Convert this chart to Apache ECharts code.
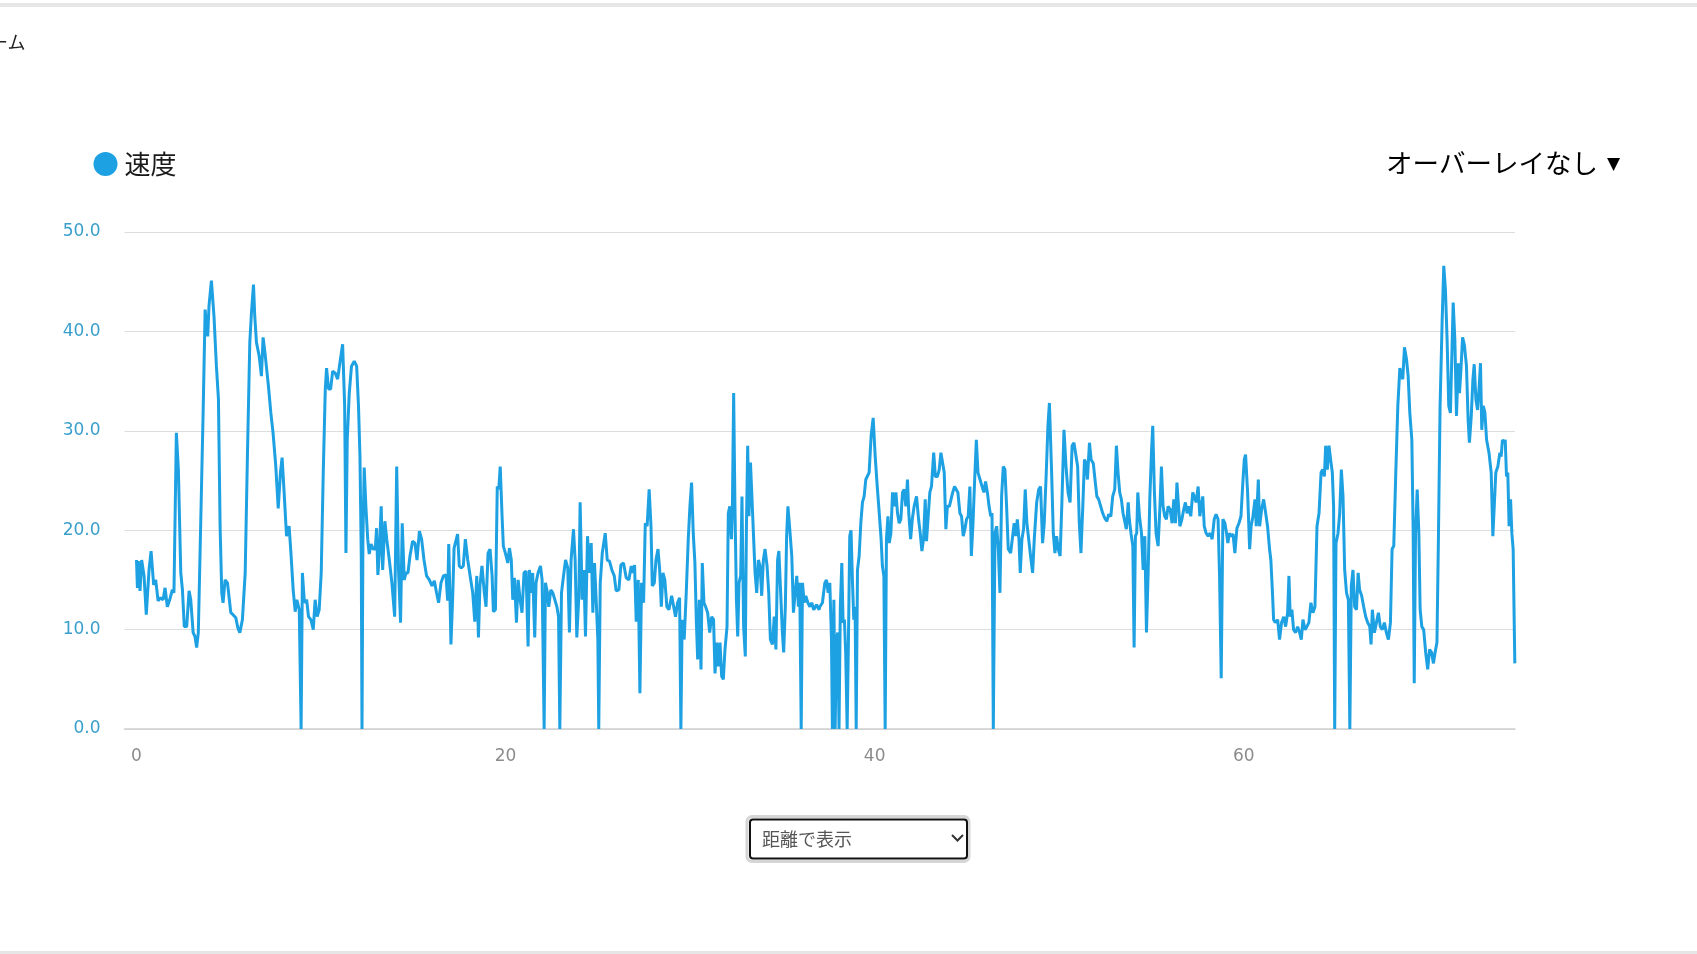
<!DOCTYPE html>
<html>
<head>
<meta charset="utf-8">
<title>速度</title>
<script src="https://cdn.jsdelivr.net/npm/echarts@6/dist/echarts.min.js"></script>
<style>
  html, body { margin: 0; padding: 0; background: #fff; }
  #chart { width: 1697px; height: 954px; }
</style>
</head>
<body>
<div id="chart"></div>
<script>
// distance (km) along the ride
const distanceKm = [
  0.00,0.05,0.10,0.19,0.28,0.41,0.53,0.68,0.79,0.86,0.93,1.04,1.17,1.31,1.44,1.55,1.67,1.80,1.94,2.03,
  2.16,2.27,2.40,2.49,2.59,2.72,2.85,2.94,3.07,3.17,3.26,3.35,3.48,3.61,3.72,3.79,3.86,3.93,4.06,4.20,
  4.33,4.44,4.53,4.62,4.69,4.80,4.93,5.11,5.23,5.38,5.49,5.60,5.74,5.89,6.01,6.14,6.23,6.34,6.41,6.50,
  6.65,6.77,6.86,6.97,7.06,7.15,7.28,7.40,7.55,7.68,7.80,7.89,8.00,8.13,8.27,8.38,8.49,8.60,8.69,8.82,
  8.92,8.99,9.10,9.22,9.32,9.45,9.58,9.68,9.79,9.90,10.01,10.12,10.23,10.30,10.41,10.52,10.63,10.77,10.90,11.02,
  11.17,11.28,11.35,11.42,11.53,11.65,11.80,11.93,12.03,
  12.11,12.18,12.22,12.27,12.34,12.43,12.53,12.61,12.71,12.83,12.94,13.01,13.08,13.16,13.26,13.34,13.46,13.56,13.70,13.84,
  13.99,14.10,14.20,14.31,14.40,14.51,14.60,14.71,14.82,14.96,15.09,15.20,15.33,15.45,15.58,15.72,15.87,16.01,16.14,16.26,
  16.37,16.50,16.63,16.77,16.86,16.92,16.99,17.04,17.13,17.21,17.31,17.40,17.49,17.60,17.71,17.82,17.95,18.08,18.22,18.33,
  18.44,18.53,18.61,18.72,18.85,18.94,19.05,19.16,19.27,19.34,19.45,19.55,19.63,19.71,19.81,19.88,19.99,20.12,20.21,20.31,
  20.39,20.48,20.59,20.68,20.79,20.89,21.00,21.11,21.22,21.29,21.40,21.47,21.58,21.65,21.76,21.89,21.98,22.09,22.16,22.27,
  22.34,22.45,22.56,22.67,22.78,22.87,22.94,23.03,23.14,23.25,23.37,23.46,23.55,23.68,23.77,23.86,23.97,24.04,24.15,24.24,
  24.33,24.44,24.55,
  24.64,24.73,24.82,24.91,25.00,25.05,25.13,25.24,25.40,25.51,25.63,25.76,25.89,25.99,26.14,26.25,26.39,26.54,26.68,26.81,
  26.90,26.99,27.08,27.19,27.28,27.37,27.48,27.57,27.67,27.78,27.88,27.95,28.06,28.15,28.26,28.35,28.44,28.53,28.63,28.74,
  28.85,29.00,29.11,29.21,29.32,29.43,29.50,29.57,29.68,29.79,29.90,29.99,30.08,30.17,30.26,30.34,30.41,30.50,30.59,30.66,
  30.75,30.84,30.95,31.06,31.17,31.27,31.35,31.44,31.53,31.62,31.71,31.80,31.89,32.00,32.07,32.15,32.24,32.29,32.36,32.43,
  32.51,32.58,32.65,32.74,32.81,32.90,32.99,33.05,33.12,33.19,33.27,33.34,33.43,33.52,33.61,33.70,33.79,33.88,33.97,34.06,
  34.17,34.26,34.35,34.46,34.56,34.65,34.74,34.81,34.91,35.00,35.07,35.16,35.23,35.30,35.40,35.51,35.60,35.69,35.78,35.87,
  35.94,36.02,36.09,36.18,36.27,36.38,36.49,36.59,36.70,36.85,36.99,
  37.03,37.17,37.30,37.39,37.48,37.57,37.66,37.71,37.79,37.86,37.93,38.00,38.07,38.14,38.22,38.29,38.36,38.43,38.51,38.58,
  38.65,38.72,38.80,38.87,38.94,39.00,39.07,39.16,39.25,39.34,39.43,39.52,39.61,39.70,39.81,39.92,40.03,40.14,40.25,40.35,
  40.42,40.50,40.57,40.64,40.72,40.79,40.88,40.97,41.06,41.15,41.24,41.33,41.42,41.51,41.60,41.69,41.78,41.85,41.95,42.04,
  42.14,42.27,42.38,42.47,42.56,42.65,42.74,42.81,42.90,42.99,43.08,43.20,43.29,43.40,43.50,43.59,43.68,43.77,43.86,43.94,
  44.05,44.14,44.23,44.33,44.42,44.51,44.62,44.71,44.80,44.89,44.98,45.07,45.16,45.24,45.33,45.42,45.51,45.60,45.71,45.82,
  45.92,46.01,46.11,46.20,46.29,46.36,46.43,46.52,46.61,46.70,46.79,46.88,46.97,47.06,47.15,47.24,47.37,47.47,47.56,47.65,
  47.73,47.82,47.89,47.98,48.07,48.16,48.25,48.35,48.45,48.56,48.65,48.78,48.89,48.99,49.10,49.19,49.30,49.39,49.47,
  49.59,49.68,49.77,49.86,49.95,50.05,50.14,50.26,50.37,50.48,50.59,50.70,50.80,50.89,51.00,51.09,51.18,51.28,51.37,51.46,
  51.53,51.64,51.73,51.85,51.94,52.04,52.14,52.25,52.36,52.47,52.58,52.68,52.80,52.90,53.01,53.10,53.19,53.28,53.37,53.46,
  53.56,53.64,53.74,53.80,53.89,53.99,54.06,54.13,54.20,54.26,54.35,54.46,54.55,54.64,54.73,54.82,54.91,55.00,55.07,55.16,
  55.25,55.36,55.47,55.54,55.63,55.72,55.81,55.90,56.01,56.12,56.21,56.30,56.38,56.45,56.54,56.65,56.75,56.84,56.93,57.02,
  57.13,57.24,57.33,57.42,57.53,57.62,57.71,57.78,57.86,57.96,58.07,58.18,58.29,58.40,58.50,58.61,58.69,58.78,58.87,58.98,
  59.07,59.14,59.22,59.31,59.42,59.52,59.63,59.74,59.85,59.94,60.03,60.10,60.21,60.32,60.40,60.50,60.61,60.68,60.79,60.86,
  60.97,61.08,61.19,61.29,61.40,61.47,61.55,61.62,61.71,
  61.84,61.94,62.05,62.17,62.27,62.38,62.45,62.52,62.61,62.70,62.81,62.92,63.03,63.12,63.21,63.32,63.42,63.53,63.64,63.75,
  63.86,63.97,64.08,64.19,64.28,64.37,64.44,64.53,64.62,64.71,64.80,64.87,64.93,65.00,65.11,65.20,65.29,65.38,65.47,65.57,
  65.67,65.75,65.83,65.92,66.01,66.11,66.20,66.28,66.39,66.50,66.61,66.72,66.83,66.90,66.97,67.08,67.19,67.30,67.40,67.51,
  67.62,67.73,67.84,67.95,68.04,68.13,68.24,68.35,68.46,68.55,68.62,68.71,68.82,68.91,69.00,69.11,69.18,69.24,69.31,69.40,
  69.49,69.56,69.65,69.75,69.86,69.97,70.07,70.18,70.28,70.37,70.47,70.55,70.64,70.75,70.84,70.93,71.02,71.11,71.20,71.28,
  71.35,71.44,71.53,71.62,71.69,71.76,71.86,71.96,72.07,72.16,72.23,72.33,72.42,72.49,72.58,72.67,72.76,72.83,72.90,72.98,
  73.07,73.16,73.29,73.41,73.50,73.58,73.66,73.77,73.88,73.95,74.02,74.10,74.17,74.24,74.31,74.38,74.46,74.53,74.60,74.69
]

// speed (km/h) at each distance
const speedKmh = [
  17.0,14.2,16.9,13.9,17.0,15.4,11.5,16.0,17.9,17.9,14.5,15.0,12.9,13.2,13.0,14.2,12.3,13.0,14.0,13.7,
  29.8,26.1,15.7,14.0,10.3,10.3,13.9,13.0,9.7,9.3,8.2,9.7,20.7,31.8,42.2,40.5,39.5,42.6,45.1,41.5,
  36.5,33.2,20.4,13.7,12.7,15.0,14.7,11.7,11.5,11.2,10.2,9.7,11.0,15.7,27.4,38.9,41.9,44.7,41.5,38.9,
  37.5,35.5,39.4,37.7,37.9,34.5,31.8,29.8,26.4,22.2,25.8,27.3,23.8,19.4,20.4,17.4,14.0,11.8,13.0,12.0,
  0,15.7,12.7,13.0,11.3,11.0,10.0,13.0,11.3,12.0,15.7,25.8,34.2,36.3,34.2,34.2,36.0,35.8,35.2,36.8,
  38.7,32.5,17.7,29.1,33.8,36.5,37.0,36.5,32.5,
  27.4,17.4,0,19.1,26.3,22.4,19.1,17.6,18.6,18.1,18.1,20.2,15.5,17.7,22.4,16.0,20.9,19.1,17.0,14.7,
  11.3,26.4,16.0,10.7,20.7,15.0,15.7,15.7,17.4,18.9,18.7,17.0,19.9,19.1,17.0,15.4,15.0,14.4,14.9,13.7,
  12.7,14.7,15.4,15.5,12.9,18.6,13.0,8.5,13.0,18.2,18.4,19.6,16.4,16.2,16.4,19.1,17.0,15.4,13.7,10.8,
  15.4,9.2,14.4,16.4,13.7,12.3,17.7,18.1,15.4,11.8,12.0,24.4,24.1,26.4,21.4,18.4,17.7,16.7,18.2,17.0,
  13.0,15.2,10.7,15.0,13.0,11.7,15.7,15.9,8.3,16.0,13.7,15.7,9.2,14.7,15.7,16.4,15.0,0,14.7,13.7,
  12.3,14.0,13.7,13.0,12.3,11.3,0,13.7,15.4,17.0,16.2,9.7,17.0,20.1,17.0,9.2,13.4,22.8,13.0,16.0,
  9.3,19.4,15.7,
  18.7,11.7,16.7,13.0,9.0,0,14.7,17.7,19.7,17.0,16.9,16.0,15.4,13.9,14.0,16.5,16.7,15.2,15.0,16.4,
  15.7,16.5,10.8,15.0,3.6,14.7,12.7,20.7,20.4,24.1,20.4,14.4,14.7,17.0,18.1,16.0,12.3,15.7,15.0,12.3,
  12.0,13.4,12.3,11.3,12.7,13.2,0,11.0,9.0,13.7,19.1,22.4,24.8,19.7,16.7,10.7,7.0,13.0,6.0,16.7,
  12.7,12.3,11.7,9.7,11.3,11.0,5.6,8.7,6.3,8.7,5.3,5.0,8.0,10.3,21.7,22.4,19.1,22.1,33.8,22.4,
  13.0,9.3,14.7,15.4,23.4,10.3,7.3,20.1,28.5,21.4,26.8,23.8,19.7,15.7,13.7,17.0,16.4,13.4,17.0,18.1,
  16.4,13.7,9.0,8.5,11.3,8.0,17.0,17.9,17.7,9.7,7.7,12.3,19.4,22.4,20.1,17.4,11.7,13.7,15.4,12.3,
  14.7,0,14.7,12.7,13.4,12.7,12.3,12.7,12.0,12.5,12.0,
  12.3,12.7,14.7,15.0,13.7,14.7,9.0,0,13.0,0,9.0,9.7,0,12.3,16.7,10.7,11.0,7.7,0,9.0,
  19.4,20.0,14.7,11.0,12.3,0,16.0,17.4,20.7,22.8,23.4,25.1,25.3,25.8,29.5,31.3,27.4,24.4,21.7,19.1,
  16.4,15.4,0,19.1,21.4,18.7,19.7,23.8,22.4,23.8,21.7,20.7,21.1,23.8,24.1,22.4,25.1,21.7,19.1,21.1,
  22.4,23.4,21.1,19.7,17.9,19.1,23.1,18.9,19.1,23.8,24.4,27.8,25.4,25.4,26.1,27.8,27.9,25.8,20.1,22.4,
  22.4,23.1,23.8,24.4,24.6,23.8,21.7,21.4,19.4,20.1,21.1,21.4,24.4,17.4,20.7,25.1,29.1,25.8,25.1,24.4,
  23.8,24.9,23.8,22.4,21.4,21.7,0,19.7,20.4,18.1,13.7,23.4,26.4,26.1,22.4,18.1,17.7,17.7,20.7,19.4,
  21.1,19.1,15.7,19.1,20.1,24.1,20.7,20.7,17.4,15.7,19.1,22.8,24.1,24.4,18.7,20.7,25.8,30.5,32.8,
  25.8,19.7,17.7,19.4,18.1,17.4,22.4,30.1,26.4,23.8,22.8,28.5,28.8,28.8,26.4,20.7,17.7,22.4,27.1,26.7,
  25.1,28.8,27.1,26.7,25.1,23.4,23.1,22.4,21.7,21.2,20.9,21.6,21.4,23.4,24.1,28.5,25.8,23.8,23.1,21.7,
  21.7,20.1,22.8,21.1,19.7,18.4,8.2,19.4,19.7,23.8,21.4,19.7,16.0,19.4,9.7,15.7,23.1,27.8,30.5,23.8,
  19.7,18.4,22.8,26.4,22.4,21.4,21.1,22.4,22.1,20.7,23.1,20.7,24.8,24.8,20.4,21.1,22.1,22.8,21.7,22.4,
  21.4,23.8,23.8,22.8,24.4,21.4,21.4,23.4,20.4,19.7,19.4,19.7,19.1,21.1,21.6,21.1,15.4,5.1,21.1,20.7,
  19.7,18.7,19.7,19.4,19.6,17.7,20.2,20.7,21.4,24.4,27.1,27.6,23.8,18.1,20.4,21.4,23.1,20.4,25.1,20.4,
  22.1,23.1,21.7,20.4,18.1,17.0,14.0,11.0,10.7,
  11.0,9.0,10.7,11.3,10.3,11.7,15.4,11.3,12.0,10.0,9.7,10.3,9.7,9.0,11.0,10.0,10.3,10.7,12.7,11.7,
  12.3,20.4,21.7,25.8,26.1,25.4,28.5,26.1,28.5,27.1,25.8,22.4,0,18.7,19.7,21.7,26.1,23.4,16.0,13.7,
  13.0,0,14.4,16.0,12.3,12.0,15.7,14.0,13.4,12.3,11.3,10.7,10.3,8.5,12.0,9.7,10.7,11.7,10.3,10.0,
  10.7,9.7,9.0,10.7,18.1,18.4,25.8,32.5,36.3,35.5,35.2,38.4,37.2,35.5,31.8,29.1,20.1,4.6,19.7,24.1,
  19.7,12.0,10.3,10.0,7.7,6.0,8.0,7.7,6.6,7.7,8.7,19.1,32.5,40.9,46.6,44.2,39.2,32.5,31.8,31.8,
  42.9,39.2,31.5,36.8,33.8,35.8,39.4,38.6,36.5,31.1,28.8,31.5,35.2,36.7,33.2,32.1,34.5,36.8,30.1,32.5,
  31.8,29.1,27.8,25.8,19.4,19.4,25.8,26.4,27.8,27.4,29.1,28.8,29.1,25.4,25.8,20.4,23.1,19.7,18.1,6.6
]

const xTickValues = [0, 20, 40, 60]
const yTickValues = [0, 10, 20, 30, 40, 50]
const seriesName = '速度'

const chart = echarts.init(document.getElementById('chart'))

chart.setOption({
  animation: false,
  backgroundColor: '#ffffff',
  legend: {
    left: 88.5,
    top: 146,
    icon: 'circle',
    itemWidth: 24,
    itemHeight: 24,
    itemGap: 20,
    data: [seriesName],
    textStyle: {
      fontFamily: '"Noto Sans CJK JP"',
      fontSize: 26,
      color: '#1a1a1a',
      padding: [0, 0, 0, 2]
    }
  },
  grid: {
    left: 124.5,
    right: 182,
    top: 232,
    bottom: 225
  },
  xAxis: {
    type: 'value',
    min: -0.65,
    max: 74.7,
    splitLine: { show: false },
    axisTick: { show: false },
    axisLine: {
      lineStyle: { color: '#cfcfcf', width: 1.5 }
    },
    axisLabel: {
      customValues: xTickValues,
      color: '#8c8c8c',
      fontFamily: 'DejaVu Sans',
      fontSize: 17,
      margin: 19
    }
  },
  yAxis: {
    type: 'value',
    min: yTickValues[0],
    max: yTickValues[yTickValues.length - 1],
    interval: 10,
    axisLine: { show: false },
    axisTick: { show: false },
    splitLine: {
      lineStyle: { color: '#dddddd', width: 1.2 }
    },
    axisLabel: {
      color: '#3a9fcb',
      fontFamily: 'DejaVu Sans',
      fontSize: 17,
      margin: 24,
      formatter: v => v.toFixed(1)
    }
  },
  series: [{
    name: seriesName,
    type: 'line',
    showSymbol: false,
    symbol: 'circle',
    color: '#1da1e2',
    lineStyle: { width: 3, color: '#1da1e2' },
    data: distanceKm.map((d, i) => [d, speedKmh[i]])
  }],
  graphic: [
    // page chrome above and below the chart
    { type: 'rect', shape: { x: 0, y: 3, width: 1697, height: 4 }, style: { fill: '#e6e6e6' } },
    { type: 'rect', shape: { x: 0, y: 951, width: 1697, height: 3 }, style: { fill: '#e6e6e6' } },
    {
      type: 'text', x: -10, y: 42,
      style: { text: 'ーム', font: '18px "Noto Sans CJK JP"', fill: '#222', verticalAlign: 'middle' }
    },
    {
      type: 'text', x: 1386, y: 163,
      style: {
        text: '{a|オーバーレイなし}{b|▼}',
        verticalAlign: 'middle',
        rich: {
          a: { fontFamily: '"Noto Sans CJK JP"', fontSize: 26.5, color: '#111' },
          b: { fontFamily: 'DejaVu Sans', fontSize: 17, color: '#111', padding: [4, 0, 0, 9] }
        }
      }
    },
    // the select box below the chart
    {
      type: 'rect', shape: { x: 747, y: 816.5, width: 222, height: 45, r: 5 },
      style: { fill: 'none', stroke: '#d6d6d6', lineWidth: 3 }
    },
    {
      type: 'rect', shape: { x: 750, y: 819.5, width: 217, height: 39, r: 3 },
      style: { fill: '#fff', stroke: '#111', lineWidth: 2 }
    },
    {
      type: 'text', x: 762, y: 839,
      style: { text: '距離で表示', font: '18px "Noto Sans CJK JP"', fill: '#555', verticalAlign: 'middle' }
    },
    {
      type: 'polyline',
      shape: { points: [[952, 835], [957.5, 840.5], [963, 835]] },
      style: { stroke: '#333', lineWidth: 2, fill: 'none' }
    }
  ]
})
</script>
</body>
</html>
